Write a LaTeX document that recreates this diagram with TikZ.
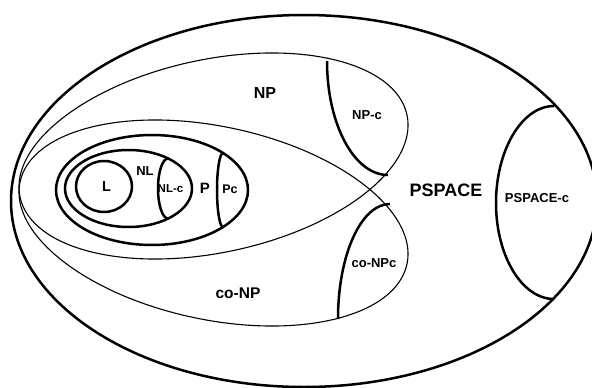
\documentclass[tikz,border=0pt]{standalone}
\usepackage{fontspec}
\setmainfont{Liberation Sans}
\begin{document}
\begin{tikzpicture}[x=1pt,y=-1pt,
  thickline/.style={line width=2.5pt},
  thinline/.style={line width=1.1pt},
  lbl/.style={font=\bfseries, inner sep=0pt}]
\useasboundingbox (0,0) rectangle (592,388);
\fill[white] (0,0) rectangle (592,388);
\begin{scope}
\clip (0,0) rectangle (592,388);
% PSPACE
\draw[thickline] (304,201) ellipse [x radius=293, y radius=186];
\end{scope}
% NP and co-NP
\draw[thinline, rotate around={11.95:(213.5,156)}] (213.5,156) ellipse [x radius=197.8, y radius=96.6];
\draw[thinline, rotate around={-11.95:(213.5,223)}] (213.5,223) ellipse [x radius=197.8, y radius=96.6];
% P, NL, L
\draw[thickline] (152,190) ellipse [x radius=96, y radius=55];
\draw[thickline] (128.5,188.5) ellipse [x radius=63.5, y radius=38.5];
\draw[thickline] (104,186.5) ellipse [x radius=28, y radius=25.5];
% complete-class arcs
\draw[thickline] (168,158.5) .. controls (162.5,158.5) and (158,172) .. (158,188.5)
  .. controls (158,205) and (162.5,218.5) .. (168,218.5);
\draw[thickline] (223,153) .. controls (219.7,153) and (217,170) .. (217,190)
  .. controls (217,210) and (219.7,227) .. (223,227);
\draw[thickline] (327,61) .. controls (327,124) and (354,175) .. (388,175);
\draw[thickline] (390,204) .. controls (361,204) and (338,255) .. (338,319);
\draw[thickline] (554,106) .. controls (522,106) and (496,150) .. (496,203)
  .. controls (496,256) and (522,299) .. (554,299);
% labels
\node[lbl, font=\bfseries\fontsize{14.5}{14.5}\selectfont] (L) at (106.5,187) {L};
\node[lbl, font=\bfseries\fontsize{13}{13}\selectfont] (NL) at (145,171) {NL};
\node[lbl, font=\bfseries\fontsize{11.5}{11.5}\selectfont] (NLc) at (170.5,188.5) {NL-c};
\node[lbl, font=\bfseries\fontsize{15}{15}\selectfont] (P) at (205,188.5) {P};
\node[lbl, font=\bfseries\fontsize{12.5}{12.5}\selectfont] (Pc) at (230,189.5) {Pc};
\node[lbl, font=\bfseries\fontsize{16}{16}\selectfont] (NP) at (265,92.5) {NP};
\node[lbl, font=\bfseries\fontsize{13}{13}\selectfont] (NPc) at (367,115) {NP-c};
\node[lbl, font=\bfseries\fontsize{18}{18}\selectfont] (PS) at (446,190) {PSPACE};
\node[lbl, font=\bfseries\fontsize{13}{13}\selectfont] (PSc) at (537,198) {PSPACE-c};
\node[lbl, font=\bfseries\fontsize{15.5}{15.5}\selectfont] (coNP) at (238,293) {co-NP};
\node[lbl, font=\bfseries\fontsize{13}{13}\selectfont] (coNPc) at (374,263) {co-NPc};
\end{tikzpicture}
\end{document}
